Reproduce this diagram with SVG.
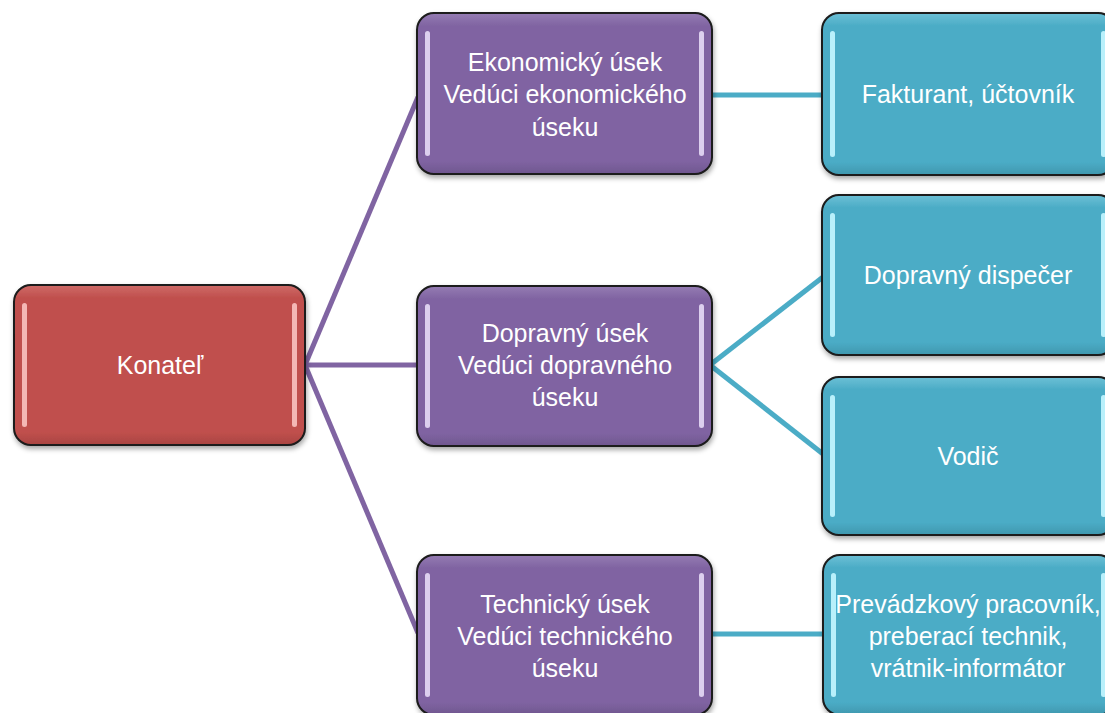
<svg xmlns="http://www.w3.org/2000/svg" width="1105" height="713" viewBox="0 0 1105 713">
<defs>
<filter id="sh" x="-10%" y="-10%" width="120%" height="125%">
<feDropShadow dx="1" dy="3" stdDeviation="2.5" flood-color="#000" flood-opacity="0.35"/>
</filter>
<linearGradient id="gRed" x1="0" y1="0" x2="0" y2="1">
<stop offset="0" stop-color="#cf6b68"/><stop offset="0.08" stop-color="#c0504d"/><stop offset="0.92" stop-color="#c0504d"/><stop offset="1" stop-color="#a94441"/>
</linearGradient>
<linearGradient id="gPur" x1="0" y1="0" x2="0" y2="1">
<stop offset="0" stop-color="#957cb3"/><stop offset="0.08" stop-color="#8064a2"/><stop offset="0.92" stop-color="#8064a2"/><stop offset="1" stop-color="#6f568f"/>
</linearGradient>
<linearGradient id="gTeal" x1="0" y1="0" x2="0" y2="1">
<stop offset="0" stop-color="#6cc0d6"/><stop offset="0.08" stop-color="#4bacc6"/><stop offset="0.92" stop-color="#4bacc6"/><stop offset="1" stop-color="#3f97ae"/>
</linearGradient>
</defs>
<style>
.box{stroke:#1a1a1a;stroke-width:2;filter:url(#sh)}
.red{fill:url(#gRed)}
.pur{fill:url(#gPur)}
.teal{fill:url(#gTeal)}
.hlR{fill:#f4b7b5}
.hlP{fill:#dccfee}
.hlT{fill:#b9f0fb}
.t{font-family:"Liberation Sans",Arial,sans-serif;font-size:25px;fill:#ffffff;text-anchor:middle}
.cp{stroke:#8064a2;stroke-width:5;fill:none}
.ct{stroke:#4bacc6;stroke-width:5;fill:none}
</style>
<rect width="1105" height="713" fill="#ffffff"/>
<g id="connectors">
<line class="cp" x1="305" y1="365" x2="418" y2="97"/>
<line class="cp" x1="305" y1="365" x2="418" y2="365"/>
<line class="cp" x1="305" y1="365" x2="418" y2="633"/>
<line class="ct" x1="711" y1="95" x2="823" y2="95"/>
<line class="ct" x1="710" y1="365" x2="823" y2="277"/>
<line class="ct" x1="710" y1="365" x2="823" y2="454"/>
<line class="ct" x1="711" y1="634" x2="823" y2="634"/>
</g>
<g id="konatel">
<rect class="box red" x="14" y="285" width="291" height="160" rx="17"/>
<rect class="hlR" x="22" y="303" width="5" height="124" rx="2.5"/>
<rect class="hlR" x="292" y="303" width="5" height="124" rx="2.5"/>
<text class="t" x="160" y="374">Konateľ</text>
</g>
<g id="ekonomicky">
<rect class="box pur" x="417" y="13" width="295" height="161" rx="17"/>
<rect class="hlP" x="425" y="31" width="5" height="125" rx="2.5"/>
<rect class="hlP" x="699" y="31" width="5" height="125" rx="2.5"/>
<text class="t" x="565" y="71">Ekonomický úsek</text>
<text class="t" x="565" y="103">Vedúci ekonomického</text>
<text class="t" x="565" y="136">úseku</text>
</g>
<g id="dopravny">
<rect class="box pur" x="417" y="286" width="295" height="160" rx="17"/>
<rect class="hlP" x="425" y="304" width="5" height="124" rx="2.5"/>
<rect class="hlP" x="699" y="304" width="5" height="124" rx="2.5"/>
<text class="t" x="565" y="342">Dopravný úsek</text>
<text class="t" x="565" y="374">Vedúci dopravného</text>
<text class="t" x="565" y="406">úseku</text>
</g>
<g id="technicky">
<rect class="box pur" x="417" y="555" width="295" height="160" rx="17"/>
<rect class="hlP" x="425" y="573" width="5" height="124" rx="2.5"/>
<rect class="hlP" x="699" y="573" width="5" height="124" rx="2.5"/>
<text class="t" x="565" y="613">Technický úsek</text>
<text class="t" x="565" y="645">Vedúci technického</text>
<text class="t" x="565" y="677">úseku</text>
</g>
<g id="fakturant">
<rect class="box teal" x="822" y="13" width="293" height="162" rx="17"/>
<rect class="hlT" x="830" y="31" width="5" height="126" rx="2.5"/>
<rect class="hlT" x="1101" y="31" width="5" height="126" rx="2.5"/>
<text class="t" x="968" y="103">Fakturant, účtovník</text>
</g>
<g id="dispecer">
<rect class="box teal" x="822" y="195" width="293" height="160" rx="17"/>
<rect class="hlT" x="830" y="213" width="5" height="124" rx="2.5"/>
<rect class="hlT" x="1101" y="213" width="5" height="124" rx="2.5"/>
<text class="t" x="968" y="284">Dopravný dispečer</text>
</g>
<g id="vodic">
<rect class="box teal" x="822" y="377" width="293" height="158" rx="17"/>
<rect class="hlT" x="830" y="395" width="5" height="122" rx="2.5"/>
<rect class="hlT" x="1101" y="395" width="5" height="122" rx="2.5"/>
<text class="t" x="968" y="465">Vodič</text>
</g>
<g id="prevadzkovy">
<rect class="box teal" x="823" y="555" width="292" height="160" rx="17"/>
<rect class="hlT" x="831" y="573" width="5" height="124" rx="2.5"/>
<rect class="hlT" x="1101" y="573" width="5" height="124" rx="2.5"/>
<text class="t" x="968" y="613">Prevádzkový pracovník,</text>
<text class="t" x="968" y="645">preberací technik,</text>
<text class="t" x="968" y="677">vrátnik-informátor</text>
</g>
</svg>
